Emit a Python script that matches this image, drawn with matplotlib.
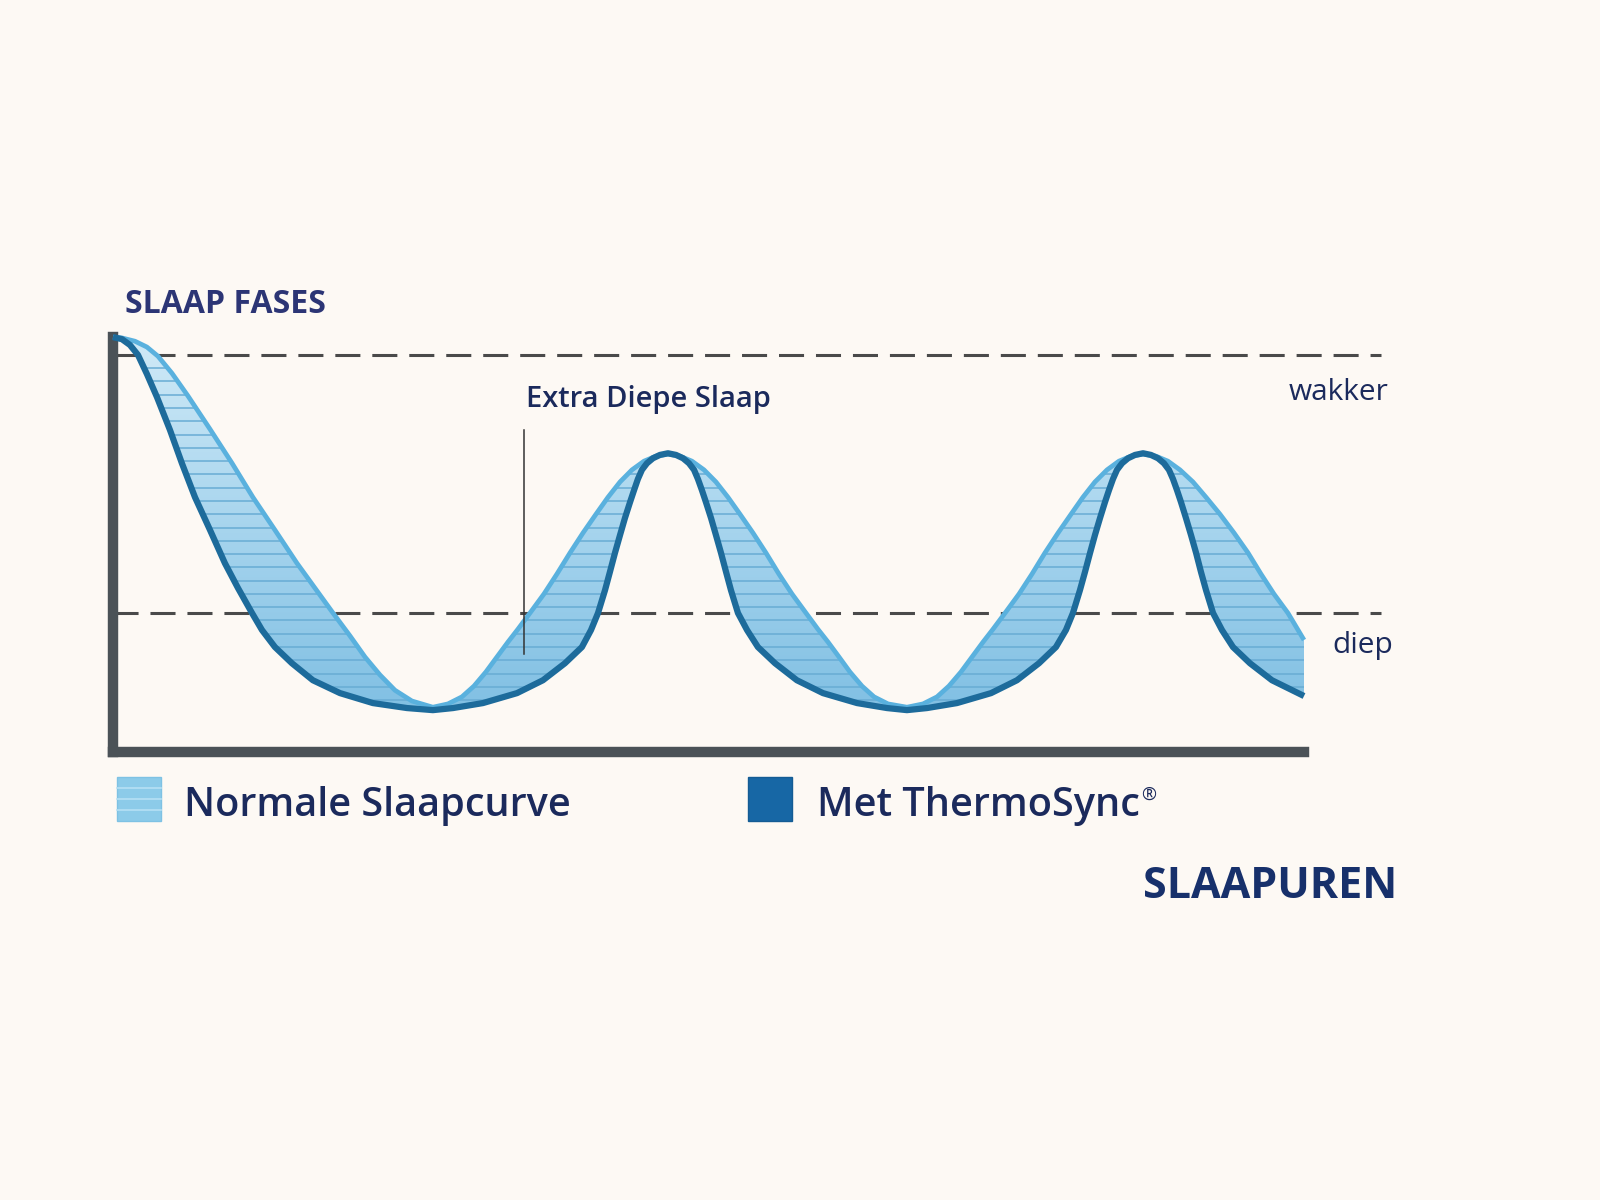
import numpy as np
import matplotlib
matplotlib.use('Agg')
import matplotlib.pyplot as plt
from matplotlib.patches import Rectangle, Polygon
from matplotlib.lines import Line2D
from matplotlib.colors import LinearSegmentedColormap

plt.rcParams['font.family'] = ['Open Sans', 'DejaVu Sans']

# slaapcurve met ThermoSync (uren, niveau: 100 = bovenkant as)
thermo_uren = [0.000, 0.060, 0.114, 0.168, 0.228, 0.296, 0.383, 0.463, 0.551, 0.652, 0.752, 0.840,
               0.934, 1.001, 1.088, 1.202, 1.343, 1.525, 1.746, 1.975, 2.149,
               2.284, 2.485, 2.714, 2.888, 3.036, 3.150, 3.211, 3.258,
               3.305, 3.338, 3.372, 3.406, 3.439, 3.473, 3.500, 3.526,
               3.553, 3.587, 3.627, 3.674, 3.728, 3.782, 3.829, 3.869, 3.903, 3.929, 3.956, 3.983,
               4.017, 4.050, 4.084, 4.118, 4.151, 4.198,
               4.259, 4.332, 4.447, 4.594, 4.769, 4.998, 5.199, 5.333,
               5.468, 5.669, 5.898, 6.072, 6.220, 6.334, 6.401, 6.448,
               6.495, 6.529, 6.563, 6.596, 6.630, 6.663, 6.690, 6.717,
               6.744, 6.778, 6.818, 6.865, 6.919, 6.972, 7.019, 7.059, 7.093, 7.120, 7.147, 7.174,
               7.207, 7.241, 7.275, 7.308, 7.342, 7.389,
               7.449, 7.523, 7.637, 7.785, 8.000]
thermo_niveau = [100.0, 99.5, 98.1, 95.7, 91.1, 85.5, 77.6, 69.6, 61.4, 53.5, 45.5, 39.5,
                 33.5, 29.4, 25.3, 21.4, 17.3, 14.2, 11.8, 10.6, 10.1,
                 10.6, 11.8, 14.2, 17.3, 21.4, 25.3, 29.4, 33.5,
                 39.0, 43.4, 48.0, 52.3, 56.4, 60.2, 63.1, 65.8,
                 68.0, 69.6, 70.8, 71.6, 72.0, 71.6, 70.8, 69.6, 68.0, 65.8, 63.1, 60.2,
                 56.4, 52.3, 48.0, 43.4, 39.0, 33.5,
                 29.4, 25.3, 21.4, 17.3, 14.2, 11.8, 10.6, 10.1,
                 10.6, 11.8, 14.2, 17.3, 21.4, 25.3, 29.4, 33.5,
                 39.0, 43.4, 48.0, 52.3, 56.4, 60.2, 63.1, 65.8,
                 68.0, 69.6, 70.8, 71.6, 72.0, 71.6, 70.8, 69.6, 68.0, 65.8, 63.1, 60.2,
                 56.4, 52.3, 48.0, 43.4, 39.0, 33.5,
                 29.4, 25.3, 21.4, 17.3, 13.5]

# normale slaapcurve
normaal_uren = [0.000, 0.060, 0.148, 0.228, 0.302, 0.396, 0.504, 0.652, 0.800, 0.940, 1.088, 1.236,
                1.357, 1.478, 1.592, 1.693, 1.793, 1.894, 2.008, 2.149,
                2.250, 2.344, 2.425, 2.505, 2.579, 2.653, 2.720, 2.801, 2.895, 2.982, 3.070, 3.157,
                3.244, 3.325, 3.406, 3.486, 3.567, 3.647, 3.728,
                3.809, 3.889, 3.970, 4.050, 4.131, 4.212, 4.299, 4.386, 4.473, 4.561, 4.655, 4.735,
                4.803, 4.877, 4.950, 5.031, 5.112, 5.206, 5.333,
                5.441, 5.535, 5.615, 5.696, 5.770, 5.844, 5.911, 5.992, 6.086, 6.173, 6.260, 6.348,
                6.435, 6.515, 6.596, 6.677, 6.757, 6.838, 6.919,
                7.006, 7.086, 7.167, 7.254, 7.342, 7.436, 7.530, 7.624, 7.711, 7.798, 7.892, 8.000]
normaal_niveau = [100.0, 99.8, 99.0, 97.6, 95.4, 91.3, 85.8, 77.8, 69.6, 61.4, 53.5, 45.5,
                  39.5, 33.5, 28.0, 22.9, 18.6, 14.9, 12.3, 10.8,
                  11.6, 13.3, 15.9, 19.3, 22.9, 26.5, 29.6, 33.5, 38.1, 42.9, 48.0, 52.8,
                  57.3, 61.4, 65.1, 68.0, 70.1, 71.3, 71.8,
                  71.3, 70.1, 68.0, 65.1, 61.4, 57.3, 52.8, 48.0, 42.9, 38.1, 33.5, 29.6,
                  26.5, 22.9, 19.3, 15.9, 13.3, 11.6, 10.8,
                  11.6, 13.3, 15.9, 19.3, 22.9, 26.5, 29.6, 33.5, 38.1, 42.9, 48.0, 52.8,
                  57.3, 61.4, 65.1, 68.0, 70.1, 71.3, 71.8,
                  71.3, 70.1, 68.0, 65.1, 61.4, 57.3, 52.8, 48.0, 42.9, 38.1, 33.5, 27.0]

wakker_niveau = 95.7
diep_niveau = 33.5
markering_uur = 2.76
markering_van, markering_tot = 23.6, 77.6

bg = '#fdf9f4'
navy = '#1b2a5c'

fig = plt.figure(figsize=(16, 12), dpi=100, facecolor=bg)
ax = fig.add_axes([0.0706, 0.3733, 0.7444, 0.3458])
ax.set_facecolor(bg)
ax.set_xlim(0, 8)
ax.set_ylim(0, 100)
for s in ['top', 'right']:
    ax.spines[s].set_visible(False)
for s in ['left', 'bottom']:
    ax.spines[s].set_color('#4b5257')
    ax.spines[s].set_linewidth(7.5)
ax.set_xticks([])
ax.set_yticks([])

# dashed reference lines
for lvl in [wakker_niveau, diep_niveau]:
    ax.plot([0, 8.52], [lvl, lvl], color='#4a4a4a', lw=2.2,
            linestyle=(0, (8.2, 3.9)), clip_on=False, zorder=1)

# band between the two curves
px = np.concatenate([thermo_uren, normaal_uren[::-1]])
py = np.concatenate([thermo_niveau, normaal_niveau[::-1]])
band = Polygon(np.column_stack([px, py]), closed=True, facecolor='none', edgecolor='none')
ax.add_patch(band)
cmap = LinearSegmentedColormap.from_list('band', ['#78bbe1', '#a4d3ed', '#d0eaf7'])
grad = np.linspace(0, 1, 256).reshape(-1, 1)
img = ax.imshow(grad, extent=[0, 8, 0, 101], origin='lower', aspect='auto', cmap=cmap, zorder=2)
img.set_clip_path(band)
stripes = ax.hlines(np.arange(92.5, 5, -3.2), 0, 8, colors='#68acd4', lw=1.1, zorder=3)
stripes.set_clip_path(band)

ax.plot(normaal_uren, normaal_niveau, color='#5ab1de', lw=3.4, clip_on=False, zorder=4,
        solid_capstyle='butt', solid_joinstyle='round')
ax.plot(thermo_uren, thermo_niveau, color='#1d6b9b', lw=4.5, clip_on=False, zorder=5,
        solid_capstyle='butt', solid_joinstyle='round')

# vertical marker
ax.plot([markering_uur, markering_uur], [markering_van, markering_tot], color='#333333', lw=1.1, zorder=6)

# texts
fig.text(0.0781, 1 - 313 / 1200, 'SLAAP FASES', fontsize=23, fontweight='bold', color='#2c3575',
         va='baseline', ha='left')
fig.text(0.329, 1 - 407 / 1200, 'Extra Diepe Slaap', fontsize=21, fontweight='semibold', color=navy,
         va='baseline', ha='left')
fig.text(0.868, 1 - 400 / 1200, 'wakker', fontsize=21.5, fontweight='medium', color=navy,
         va='baseline', ha='right')
fig.text(0.871, 1 - 653 / 1200, 'diep', fontsize=21.5, fontweight='medium', color=navy,
         va='baseline', ha='right')
fig.text(0.873, 1 - 898 / 1200, 'SLAAPUREN', fontsize=31, fontweight='bold', color='#17306b',
         va='baseline', ha='right')

# legend
fig.add_artist(Rectangle((0.0731, 0.3158), 0.0275, 0.0367, transform=fig.transFigure,
                         facecolor='#8ccbe9', edgecolor='#7ec2e4', lw=1))
for yy in [0.3250, 0.3340, 0.3430]:
    fig.add_artist(Line2D([0.0731, 0.1006], [yy, yy], transform=fig.transFigure,
                          color='#b6e0f4', lw=1.2))
fig.add_artist(Rectangle((0.4675, 0.3158), 0.0275, 0.0367, transform=fig.transFigure,
                         facecolor='#1767a5', edgecolor='#145c94', lw=1))
fig.text(0.115, 1 - 816 / 1200, 'Normale Slaapcurve', fontsize=28.5, fontweight='semibold', color=navy,
         va='baseline', ha='left')
t = fig.text(0.5106, 1 - 816 / 1200, 'Met ThermoSync', fontsize=28.5, fontweight='semibold', color=navy,
             va='baseline', ha='left')
fig.canvas.draw()
ax.annotate('®', xy=(1, 1), xycoords=t, xytext=(1, 0), textcoords='offset points',
            fontsize=13, color=navy, va='top', ha='left', annotation_clip=False)

fig.savefig('out.png', dpi=100, facecolor=bg)
